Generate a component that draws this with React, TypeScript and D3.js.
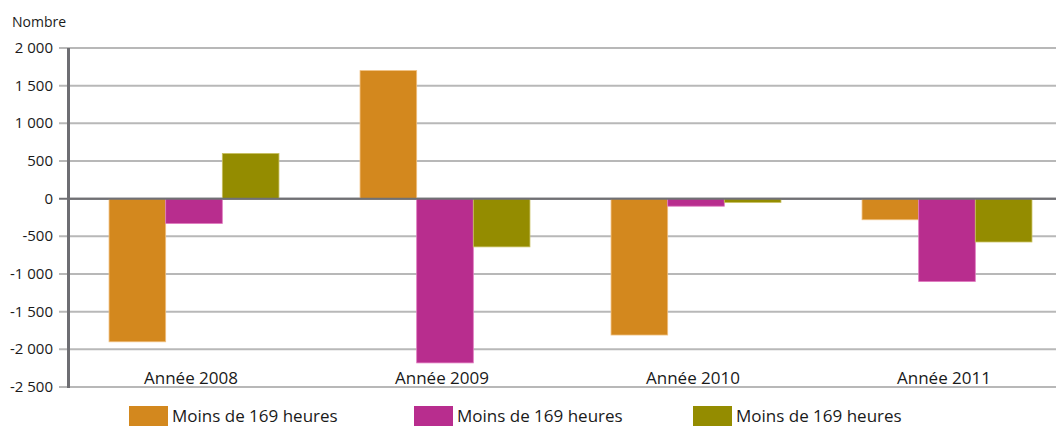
import { useEffect, useRef } from "react";
import * as d3 from "d3";

const categories = ["Année 2008", "Année 2009", "Année 2010", "Année 2011"];
const seriesNames = ["Moins de 169 heures", "Moins de 169 heures", "Moins de 169 heures"];
const seriesA = [-1900, 1700, -1810, -280];
const seriesB = [-330, -2180, -100, -1100];
const seriesC = [600, -640, -50, -575];
const tickValues = [2000, 1500, 1000, 500, 0, -500, -1000, -1500, -2000, -2500];
const tickLabels = ["2 000", "1 500", "1 000", "500", "0", "-500", "-1 000", "-1 500", "-2 000", "-2 500"];
const colors = ["#d3881e", "#b82d8e", "#948c00"];
const strokes = ["#f0c080", "#e07ac0", "#c8c060"];

export default function App() {
  const svgRef = useRef<SVGSVGElement>(null);

  useEffect(() => {
    if (!svgRef.current) return;
    const svg = d3.select(svgRef.current);
    svg.selectAll("*").remove();

    const font = "'Open Sans', 'DejaVu Sans', sans-serif";
    const axisX = 68.5;

    const y = d3.scaleLinear().domain([-2500, 2000]).range([387, 48]);
    const x = d3
      .scaleBand<string>()
      .domain(categories)
      .range([axisX, axisX + 251 * 4])
      .paddingInner(0.323)
      .paddingOuter(0.1615);
    const x1 = d3
      .scaleBand<number>()
      .domain([0, 1, 2])
      .range([0, x.bandwidth()]);

    // gridlines
    svg
      .append("g")
      .selectAll("line")
      .data(tickValues)
      .enter()
      .append("line")
      .attr("x1", 59)
      .attr("x2", 1056)
      .attr("y1", (d) => y(d))
      .attr("y2", (d) => y(d))
      .attr("stroke", (d) => (d === 0 ? "#707074" : "#b8b8b8"))
      .attr("stroke-width", 2);

    // tick labels
    svg
      .append("g")
      .selectAll("text")
      .data(tickValues)
      .enter()
      .append("text")
      .attr("x", 53)
      .attr("y", (d) => y(d) + 5)
      .attr("text-anchor", "end")
      .style("font-family", font)
      .style("font-size", "15px")
      .attr("fill", "#1a1a1a")
      .text((d, i) => tickLabels[i]);

    // bars
    const series = [seriesA, seriesB, seriesC];
    series.forEach((vals, s) => {
      svg
        .append("g")
        .selectAll("rect")
        .data(vals)
        .enter()
        .append("rect")
        .attr("x", (d, i) => (x(categories[i]) as number) + (x1(s) as number))
        .attr("width", x1.bandwidth())
        .attr("y", (d) => Math.min(y(d), y(0)))
        .attr("height", (d) => Math.abs(y(d) - y(0)))
        .attr("fill", colors[s])
        .attr("stroke", strokes[s])
        .attr("stroke-width", 0.8);
    });

    // zero line on top
    svg
      .append("line")
      .attr("x1", axisX)
      .attr("x2", 1056)
      .attr("y1", y(0))
      .attr("y2", y(0))
      .attr("stroke", "#707074")
      .attr("stroke-width", 2);

    // y axis line
    svg
      .append("line")
      .attr("x1", axisX)
      .attr("x2", axisX)
      .attr("y1", y(2000))
      .attr("y2", y(-2500) + 1)
      .attr("stroke", "#6e6e73")
      .attr("stroke-width", 3);

    // category labels
    svg
      .append("g")
      .selectAll("text")
      .data(categories)
      .enter()
      .append("text")
      .attr("x", (d) => (x(d) as number) + x.bandwidth() / 2 - 3)
      .attr("y", 384)
      .attr("text-anchor", "middle")
      .style("font-family", font)
      .style("font-size", "17px")
      .attr("fill", "#1a1a1a")
      .text((d) => d);

    // title
    svg
      .append("text")
      .attr("x", 12)
      .attr("y", 27)
      .style("font-family", font)
      .style("font-size", "14px")
      .attr("fill", "#1a1a1a")
      .text("Nombre");

    // legend
    const legendX = [129, 414, 693];
    const legend = svg
      .append("g")
      .selectAll("g")
      .data(seriesNames)
      .enter()
      .append("g")
      .attr("transform", (d, i) => `translate(${legendX[i]},406)`);
    legend
      .append("rect")
      .attr("width", 39)
      .attr("height", 20)
      .attr("fill", (d, i) => colors[i]);
    legend
      .append("text")
      .attr("x", 43)
      .attr("y", 16)
      .style("font-family", font)
      .style("font-size", "17px")
      .attr("fill", "#1a1a1a")
      .text((d) => d);
  }, []);

  return (
    <svg
      ref={svgRef}
      width={1056}
      height={427}
      style={{ position: "absolute", left: 0, top: 0, background: "#fff" }}
    ></svg>
  );
}
